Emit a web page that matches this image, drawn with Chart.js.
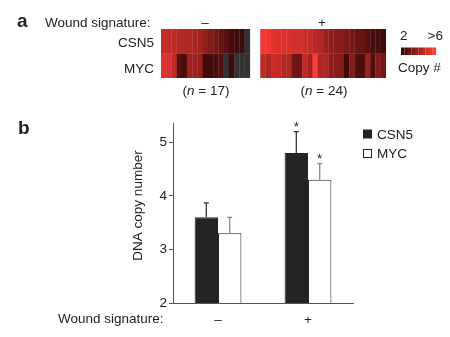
<!DOCTYPE html>
<html>
<head>
<meta charset="utf-8">
<script src="https://cdn.jsdelivr.net/npm/chart.js@4.4.1/dist/chart.umd.min.js"></script>
<style>
body { margin: 0; background: #fff; }
#wrap { position: relative; width: 450px; height: 337px; overflow: hidden; font-family: "Liberation Sans", Arial, sans-serif; color: #222; }
#wrap canvas { position: absolute; left: 0; }
.t { position: absolute; font-size: 13.5px; line-height: 15px; white-space: nowrap; }
.c { text-align: center; }
.panel { position: absolute; font-size: 19px; font-weight: bold; line-height: 20px; }
</style>
</head>
<body>
<div id="wrap">
  <canvas id="heat" width="450" height="110" style="top:0"></canvas>
  <canvas id="bars" width="450" height="227" style="top:110px"></canvas>

  <div class="panel" style="left:17px; top:11px">a</div>
  <div class="t" style="left:45px; top:15px">Wound signature:</div>
  <div class="t c" style="left:195px; top:15px; width:20px">–</div>
  <div class="t c" style="left:312px; top:15px; width:20px">+</div>
  <div class="t" style="right:296px; top:35px">CSN5</div>
  <div class="t" style="right:296px; top:61px">MYC</div>
  <div class="t c" style="left:166px; top:83px; width:80px">(<i>n</i> = 17)</div>
  <div class="t c" style="left:284px; top:83px; width:80px">(<i>n</i> = 24)</div>
  <div class="t" style="left:400px; top:28px">2</div>
  <div class="t" style="right:7px; top:28px">&gt;6</div>
  <div class="t" style="left:398px; top:60px">Copy #</div>

  <div class="panel" style="left:18px; top:118px">b</div>
  <div class="t" style="left:58px; top:311px">Wound signature:</div>
</div>

<script>
// panel a: copy number per tumour, wound signature - (17) and + (24)
const csn5Neg = [4.8, 4.7, 4.6, 4.5, 4.4, 4.4, 4.3, 4.1, 3.8, 3.4, 3.2, 2.8, 2.6, 2.2, 2.1, 2.05, 2.0];
const mycNeg  = [5.3, 5.2, 4.7, 2.6, 2.3, 4.0, 4.0, 3.8, 2.2, 2.2, 2.3, 2.5, 2.0, 2.1, 2.0, 2.0, 2.0];
const csn5Pos = [5.7, 5.7, 5.4, 5.3, 5.2, 5.2, 5.1, 5.1, 4.9, 4.8, 4.5, 4.4, 4.0, 3.7, 3.6, 3.6, 3.3, 3.2, 2.95, 2.9, 2.6, 2.3, 2.25, 2.05];
const mycPos  = [4.7, 4.3, 4.9, 4.8, 4.4, 4.4, 3.1, 3.0, 4.7, 4.1, 6.0, 4.3, 4.4, 3.6, 3.6, 3.5, 2.1, 3.5, 2.4, 2.3, 4.0, 2.4, 3.5, 3.1];
const gapCols = 2;

// panel b: mean DNA copy number
const groups = ['–', '+'];
const csn5Mean = [3.6, 4.8];
const csn5Err  = [0.27, 0.4];
const mycMean  = [3.3, 4.3];
const mycErr   = [0.3, 0.3];
const signif   = ['', '*'];

Chart.defaults.font.family = '"Liberation Sans", Arial, sans-serif';
Chart.defaults.font.size = 13.5;
Chart.defaults.color = '#222';

function copyColor(v) {
  if (v == null) return 'rgba(0,0,0,0)';
  if (v <= 2) return 'rgb(52,50,50)';
  const t = Math.min(1, (v - 2) / 4);
  return 'rgb(' + Math.round(60 + 195 * t) + ',' + Math.round(10 + 48 * t) + ',' + Math.round(10 + 42 * t) + ')';
}

const gap = new Array(gapCols).fill(null);
const csn5All = csn5Neg.concat(gap, csn5Pos);
const mycAll = mycNeg.concat(gap, mycPos);
const heatLabels = csn5All.map((v, i) => 'T' + (i + 1));

const scaleKey = {
  id: 'scaleKey',
  afterDraw(chart) {
    const ctx = chart.ctx;
    const steps = 10;
    for (let k = 0; k < steps; k++) {
      ctx.fillStyle = copyColor(2.05 + 3.95 * k / (steps - 1));
      ctx.fillRect(401 + k * 3.5, 47.5, 3.6, 7.5);
    }
  }
};

new Chart(document.getElementById('heat'), {
  type: 'bar',
  data: {
    labels: heatLabels,
    datasets: [
      { label: 'CSN5', data: csn5All.map(v => v == null ? null : [1, 2]), backgroundColor: csn5All.map(copyColor) },
      { label: 'MYC', data: mycAll.map(v => v == null ? null : [0, 1]), backgroundColor: mycAll.map(copyColor) }
    ]
  },
  options: {
    responsive: false,
    animation: false,
    layout: { padding: { left: 161, right: 64, top: 29, bottom: 32 } },
    datasets: { bar: { barPercentage: 1, categoryPercentage: 1, borderWidth: 0, inflateAmount: 0.15 } },
    plugins: { legend: { display: false }, tooltip: { enabled: false } },
    scales: {
      x: { display: false, stacked: true },
      y: { display: false, min: 0, max: 2 }
    }
  },
  plugins: [scaleKey]
});

const errorBars = {
  id: 'errorBars',
  afterDatasetsDraw(chart) {
    const ctx = chart.ctx;
    const y = chart.scales.y;
    chart.data.datasets.forEach((ds, i) => {
      chart.getDatasetMeta(i).data.forEach((bar, j) => {
        const top = y.getPixelForValue(ds.data[j] + ds.errors[j]);
        ctx.save();
        ctx.strokeStyle = ds.errorColor;
        ctx.lineWidth = 1.3;
        ctx.beginPath();
        ctx.moveTo(bar.x, bar.y);
        ctx.lineTo(bar.x, top);
        ctx.moveTo(bar.x - 2.5, top);
        ctx.lineTo(bar.x + 2.5, top);
        ctx.stroke();
        if (signif[j]) {
          ctx.fillStyle = '#222';
          ctx.font = '13.5px "Liberation Sans", Arial, sans-serif';
          ctx.textAlign = 'center';
          ctx.fillText(signif[j], bar.x, top - 1);
        }
        ctx.restore();
      });
    });
  }
};

const sideLegend = {
  id: 'sideLegend',
  afterDraw(chart) {
    const ctx = chart.ctx;
    const a = chart.chartArea;
    ctx.save();
    ctx.font = '13.5px "Liberation Sans", Arial, sans-serif';
    ctx.textBaseline = 'alphabetic';
    chart.data.datasets.forEach((ds, i) => {
      const x = a.right + 10.5;
      const y = a.top + 7 + i * 19.5;
      ctx.fillStyle = ds.backgroundColor;
      ctx.fillRect(x, y, 8, 8);
      ctx.strokeStyle = '#222';
      ctx.lineWidth = 1;
      ctx.strokeRect(x, y, 8, 8);
      ctx.fillStyle = '#222';
      ctx.fillText(ds.label, a.right + 24, y + 8.5);
    });
    ctx.restore();
  }
};

new Chart(document.getElementById('bars'), {
  type: 'bar',
  data: {
    labels: groups,
    datasets: [
      { label: 'CSN5', data: csn5Mean, errors: csn5Err, errorColor: '#333', backgroundColor: '#242424', borderColor: '#242424', borderWidth: 1 },
      { label: 'MYC', data: mycMean, errors: mycErr, errorColor: '#888', backgroundColor: '#fff', borderColor: '#222', borderWidth: 1 }
    ]
  },
  options: {
    responsive: false,
    animation: false,
    layout: { padding: { left: 130, right: 97, top: 13, bottom: 0 } },
    datasets: { bar: { barPercentage: 1, categoryPercentage: 0.52 } },
    plugins: { legend: { display: false }, tooltip: { enabled: false } },
    scales: {
      x: {
        ticks: { padding: 9 },
        grid: { display: false, drawTicks: false },
        border: { display: true, color: '#555' },
        afterFit(s) { s.height = 34; }
      },
      y: {
        min: 2,
        max: 5.36,
        ticks: { stepSize: 1, includeBounds: false, padding: 2 },
        grid: { drawOnChartArea: false, drawTicks: true, tickLength: 4, color: '#555' },
        border: { display: true, color: '#555' },
        // leading spaces lift the rotated title a little, as in the source figure
        title: { display: true, text: '    DNA copy number', padding: 0 },
        afterFit(s) { s.width = 43; }
      }
    }
  },
  plugins: [errorBars, sideLegend]
});
</script>
</body>
</html>
